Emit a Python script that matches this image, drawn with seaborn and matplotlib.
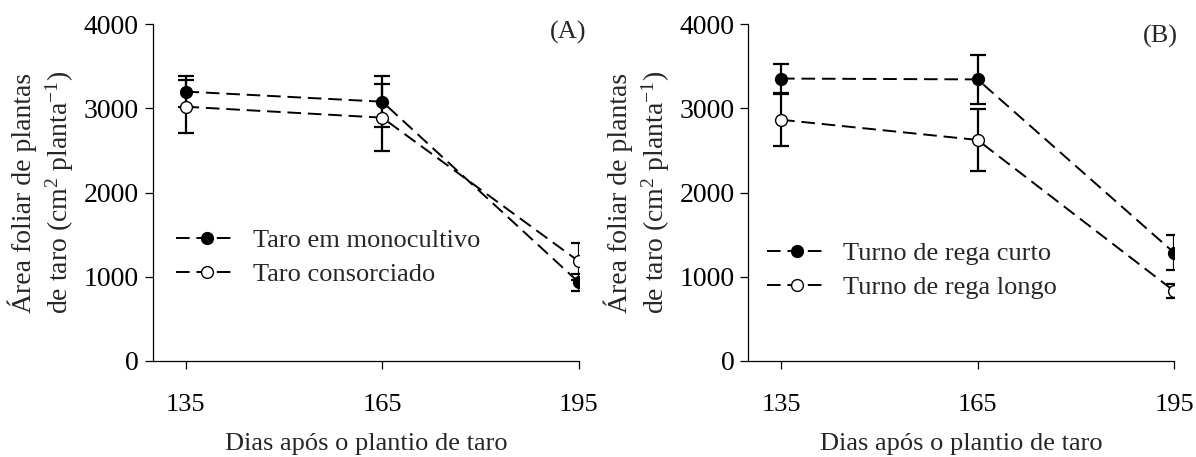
import numpy as np
import pandas as pd
import matplotlib
matplotlib.use("Agg")
import matplotlib.pyplot as plt
import seaborn as sns

# dados
dias = [135, 165, 195]

# (A) sistema de cultivo
mono_media = [3200, 3080, 930]
mono_erro = [185, 300, 100]
cons_media = [3020, 2890, 1180]
cons_erro = [315, 400, 225]

# (B) turno de rega
curto_media = [3355, 3345, 1285]
curto_erro = [170, 290, 205]
longo_media = [2865, 2625, 830]
longo_erro = [310, 370, 80]

sns.set_style("ticks")
plt.rcParams['font.family'] = ['Liberation Serif', 'DejaVu Serif']
plt.rcParams['mathtext.fontset'] = 'custom'
plt.rcParams['mathtext.rm'] = 'Liberation Serif'
plt.rcParams['mathtext.it'] = 'Liberation Serif:italic'
plt.rcParams['font.size'] = 19

fig = plt.figure(figsize=(11.96, 4.57), dpi=100)
ax_a = fig.add_axes([0.1277, 0.2107, 0.3564, 0.7361])
ax_b = fig.add_axes([0.6257, 0.2107, 0.3559, 0.7361])


def desenha_serie(ax, media, erro, rotulo, cheio):
    ax.errorbar(dias, media, yerr=erro, fmt='none', ecolor='black',
                elinewidth=1.6, capsize=6, capthick=1.6, zorder=2)
    df = pd.DataFrame({'dia': dias, 'valor': media})
    sns.lineplot(data=df, x='dia', y='valor', ax=ax, color='black',
                 linestyle=(0, (7, 3.5)), linewidth=1.4, marker='o',
                 markersize=8.5, markerfacecolor='black' if cheio else 'white',
                 markeredgecolor='black', markeredgewidth=1.0,
                 errorbar=None, label=rotulo, zorder=3)


def formata(ax, letra, letra_xy, leg_xy):
    ax.set_xlim(130, 195)
    ax.set_ylim(0, 4000)
    ax.set_xticks(dias)
    ax.set_yticks([0, 1000, 2000, 3000, 4000])
    sns.despine(ax=ax)
    for s in ['left', 'bottom']:
        ax.spines[s].set_linewidth(0.9)
        ax.spines[s].set_color('black')
    ax.tick_params(direction='out', length=6, width=0.9, colors='black',
                   labelsize=20, pad=4)
    ax.tick_params(axis='x', labelsize=19, pad=18)
    ax.set_xlabel('Dias após o plantio de taro', fontsize=19, labelpad=12)
    ax.set_ylabel('Área foliar de plantas\nde taro (cm$^{2}$ planta$^{-1}$)',
                  fontsize=20, linespacing=1.25)
    ax.yaxis.set_label_coords(-0.18, 0.5)
    ax.text(letra_xy[0], letra_xy[1], letra, transform=ax.transAxes,
            ha='right', va='top', fontsize=19)
    ax.legend(loc='upper left', bbox_to_anchor=leg_xy, frameon=False,
              borderpad=0, borderaxespad=0, handlelength=2.3,
              handletextpad=0.6, labelspacing=0.4, fontsize=19)


desenha_serie(ax_a, mono_media, mono_erro, 'Taro em monocultivo', True)
desenha_serie(ax_a, cons_media, cons_erro, 'Taro consorciado', False)
formata(ax_a, '(A)', (1.018, 1.011), (0.055, 0.393))

desenha_serie(ax_b, curto_media, curto_erro, 'Turno de rega curto', True)
desenha_serie(ax_b, longo_media, longo_erro, 'Turno de rega longo', False)
formata(ax_b, '(B)', (1.009, 0.998), (0.043, 0.355))

fig.savefig('out.png', dpi=100)
